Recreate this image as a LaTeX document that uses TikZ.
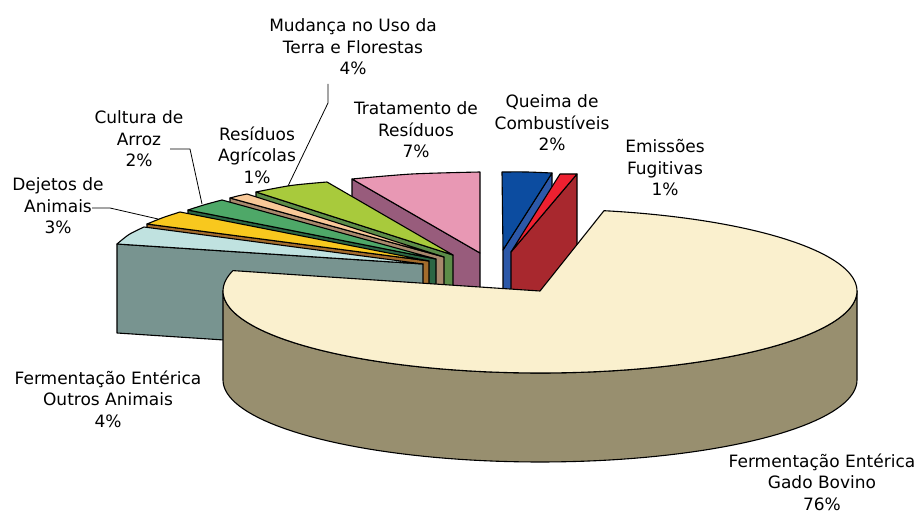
\documentclass[tikz,border=0pt]{standalone}
\usepackage{fontspec}
\setmainfont{DejaVu Sans}
\usetikzlibrary{calc}
\definecolor{trF}{HTML}{985C7C}
\definecolor{trT}{HTML}{E898B4}
\definecolor{muF}{HTML}{5C8C48}
\definecolor{muT}{HTML}{A8CA3C}
\definecolor{raF}{HTML}{A8886C}
\definecolor{raT}{HTML}{F8C898}
\definecolor{arF}{HTML}{2C6644}
\definecolor{arT}{HTML}{4EA868}
\definecolor{deF}{HTML}{A46C2C}
\definecolor{deT}{HTML}{F8C81E}
\definecolor{ouF}{HTML}{789490}
\definecolor{ouT}{HTML}{C0E2E0}
\definecolor{quF}{HTML}{2C58A8}
\definecolor{quT}{HTML}{0C4CA0}
\definecolor{emF}{HTML}{A8282E}
\definecolor{emT}{HTML}{EE2030}
\definecolor{gaS}{HTML}{988F6F}
\definecolor{gaT}{HTML}{FAF0CE}
% apex, face outer point, start, mid, end, face colour, top colour
\newcommand{\bslice}[7]{%
  \filldraw[edge, fill=#6] (#1) -- (#2) -- ++(0,89) -- ($(#1)+(0,89)$) -- cycle;
  \filldraw[edge, fill=#7] (#1) -- plot[smooth] coordinates {(#3) (#4) (#5)} -- cycle;
}
\begin{document}
\begin{tikzpicture}[x=1pt,y=-1pt,line join=round,
  edge/.style={draw=black, line width=1.1pt},
  lbl/.style={align=center, inner sep=0pt, font=\fontsize{17}{21.5}\selectfont},
  leader/.style={draw=black, line width=0.8pt}]
\useasboundingbox (0,0) rectangle (919,513);

% back slices, from back to front
\bslice{480,253}{352,179}{352,179}{412,174}{480,172}{trF}{trT}
\bslice{453,255}{256,192}{256,192}{291,185.5}{327,182}{muF}{muT}
\bslice{444,257}{230,198}{230,198}{238.5,195.8}{247,194}{raF}{raT}
\bslice{436,259}{188,210}{188,210}{205,204.6}{222,200}{arF}{arT}
\bslice{429,261}{147,224}{147,224}{163,217.6}{180,212}{deF}{deT}
\bslice{423,264}{117,244}{117,244}{129,234.5}{144,227}{ouF}{ouT}
\bslice{503,250}{552,173}{502,172}{527,172}{552,173}{quF}{quT}
\bslice{511,252}{577,174}{560,174}{568.5,174}{577,174}{emF}{emT}

% big slice (Gado Bovino)
\filldraw[edge, fill=gaS]
  plot[domain=90:270, samples=80] ({540+317*sin(\x)},{291-82*cos(\x)})
  -- plot[domain=270:90, samples=80] ({540+317*sin(\x)},{380-82*cos(\x)}) -- cycle;
\filldraw[edge, fill=gaT] (540,291)
  -- plot[domain=11.65:284.4, samples=160] ({540+317*sin(\x)},{291-82*cos(\x)}) -- cycle;

% labels
\node[lbl] (mud) at (353,47) {Mudança no Uso da\\Terra e Florestas\\4\%};
\node[lbl] (trat) at (416,130) {Tratamento de\\Resíduos\\7\%};
\node[lbl] (resag) at (257,155) {Resíduos\\Agrícolas\\1\%};
\node[lbl] (arroz) at (139,139) {Cultura de\\Arroz\\2\%};
\node[lbl] (dej) at (58,206) {Dejetos de\\Animais\\3\%};
\node[lbl] (queima) at (552,123) {Queima de\\Combustíveis\\2\%};
\node[lbl] (emis) at (665,168) {Emissões\\Fugitivas\\1\%};
\node[lbl] (outros) at (108,399) {Fermentação Entérica\\Outros Animais\\4\%};
\node[lbl] (gado) at (822,482) {Fermentação Entérica\\Gado Bovino\\76\%};

% leader lines
\coordinate (mudA) at (328,84);
\coordinate (mudB) at (328,103);
\coordinate (mudE) at (288,186);
\draw[leader] (mudA) -- (mudB) -- (mudE);
\coordinate (arA) at (170,149);
\coordinate (arB) at (190,149);
\coordinate (arE) at (202,204);
\draw[leader] (arA) -- (arB) -- (arE);
\coordinate (deA) at (92,208);
\coordinate (deB) at (110,208);
\coordinate (deE) at (158,219);
\draw[leader] (deA) -- (deB) -- (deE);
\end{tikzpicture}
\end{document}
